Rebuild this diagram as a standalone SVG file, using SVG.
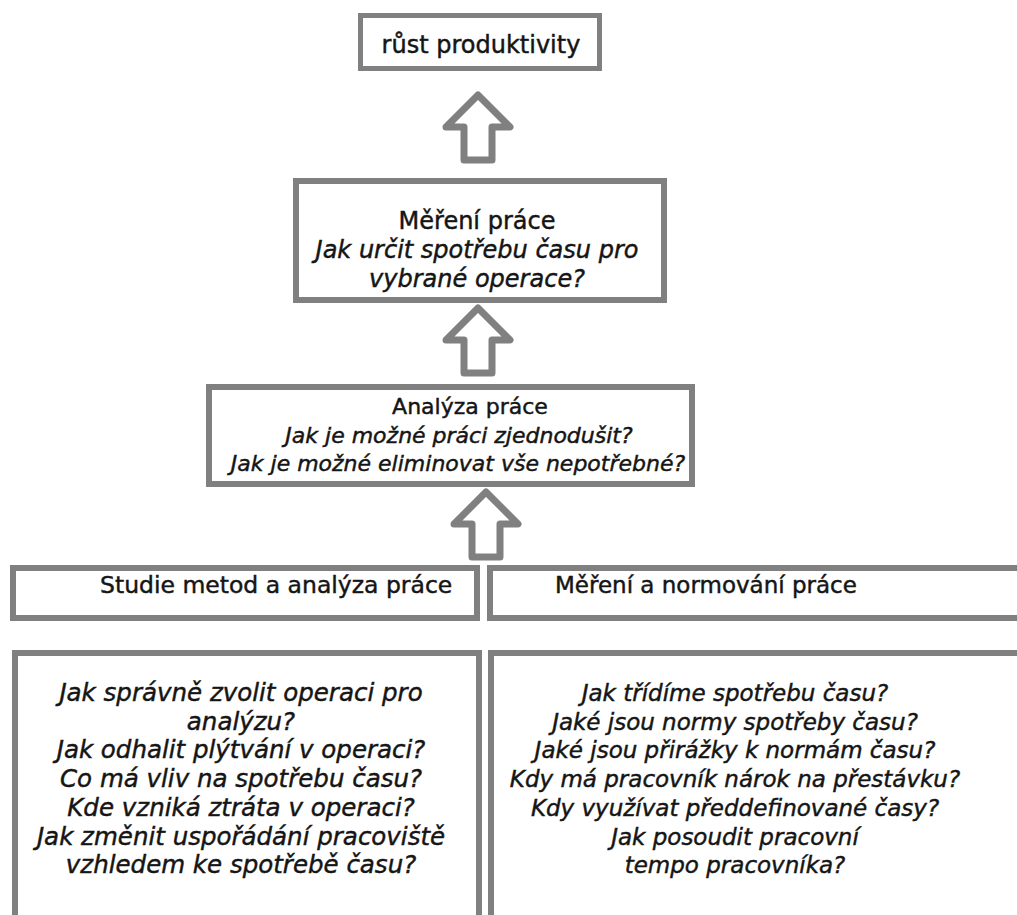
<svg xmlns="http://www.w3.org/2000/svg" width="1017" height="915" viewBox="0 0 1017 915">
<defs>
<style>
.box{fill:#fff;stroke:#808080;stroke-width:6}
.arr{fill:#fff;stroke:#808080;stroke-width:7;stroke-linejoin:round}
text{font-family:"DejaVu Sans",Verdana,sans-serif;fill:#151515;stroke:#151515;stroke-width:0.45}
.c{text-anchor:middle}
.i{font-style:italic}
</style>
<path id="up" d="M0,0 L32,32 L14,32 L14,65 L-14,65 L-14,32 L-32,32 Z"/>
</defs>
<rect width="1017" height="915" fill="#fff"/>
<g id="connectors">
<use href="#up" class="arr" x="478" y="95"/>
<use href="#up" class="arr" x="478" y="308"/>
<use href="#up" class="arr" x="486" y="492"/>
</g>
<g id="n1">
<rect class="box" x="360.5" y="15.5" width="239" height="53" style="stroke-width:5"/>
<text class="c" x="481" y="53" font-size="24">růst produktivity</text>
</g>
<g id="n2">
<rect class="box" x="296" y="181" width="368" height="119"/>
<text class="c" x="477" y="229" font-size="24">Měření práce</text>
<text class="c i" x="477" y="258" font-size="24">Jak určit spotřebu času pro</text>
<text class="c i" x="477" y="287" font-size="24">vybrané operace?</text>
</g>
<g id="n3">
<rect class="box" x="209" y="387" width="483" height="97"/>
<text class="c" x="470" y="414" font-size="22">Analýza práce</text>
<text class="c i" x="459" y="443" font-size="22">Jak je možné práci zjednodušit?</text>
<text class="c i" x="458" y="471" font-size="22">Jak je možné eliminovat vše nepotřebné?</text>
</g>
<g id="n4">
<rect class="box" x="13" y="568" width="464" height="50"/>
<text x="100" y="593" font-size="23.5">Studie metod a analýza práce</text>
</g>
<g id="n5">
<rect class="box" x="490" y="568" width="540" height="50"/>
<text x="555" y="593" font-size="23">Měření a normování práce</text>
</g>
<g id="n6">
<rect class="box" x="15" y="653" width="464" height="300"/>
<g class="c i" font-size="24.5">
<text x="241" y="701">Jak správně zvolit operaci pro</text>
<text x="241" y="730">analýzu?</text>
<text x="241" y="758">Jak odhalit plýtvání v operaci?</text>
<text x="241" y="787">Co má vliv na spotřebu času?</text>
<text x="241" y="816">Kde vzniká ztráta v operaci?</text>
<text x="241" y="845">Jak změnit uspořádání pracoviště</text>
<text x="241" y="873">vzhledem ke spotřebě času?</text>
</g>
</g>
<g id="n7">
<rect class="box" x="491" y="653" width="540" height="300"/>
<g class="c i" font-size="23">
<text x="735" y="701">Jak třídíme spotřebu času?</text>
<text x="735" y="730">Jaké jsou normy spotřeby času?</text>
<text x="735" y="758">Jaké jsou přirážky k normám času?</text>
<text x="735" y="787">Kdy má pracovník nárok na přestávku?</text>
<text x="735" y="816">Kdy využívat předdefinované časy?</text>
<text x="735" y="845">Jak posoudit pracovní</text>
<text x="735" y="873">tempo pracovníka?</text>
</g>
</g>
</svg>
